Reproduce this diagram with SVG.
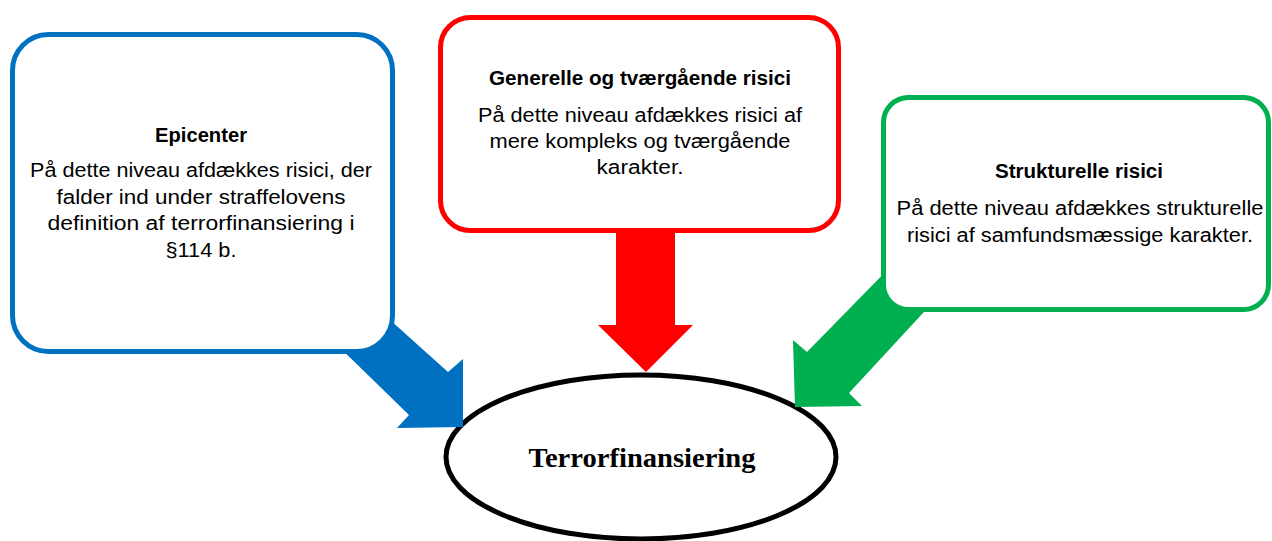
<svg xmlns="http://www.w3.org/2000/svg" width="1272" height="541" viewBox="0 0 1272 541">
  <style>
    .box { fill: #ffffff; stroke-width: 5; }
    .title { font-family: "Liberation Sans", Arial, sans-serif; font-weight: bold; font-size: 20px; fill: #000; text-anchor: middle; }
    .body { font-family: "Liberation Sans", Arial, sans-serif; font-size: 20px; fill: #000; text-anchor: middle; }
    .center { font-family: "Liberation Serif", "Times New Roman", serif; font-weight: bold; font-size: 28px; fill: #000; text-anchor: middle; }
  </style>
  <rect width="1272" height="541" fill="#ffffff"/>

  <g id="center-node">
    <ellipse cx="641" cy="457" rx="195" ry="82" fill="#ffffff" stroke="#000000" stroke-width="5"/>
    <text class="center" x="642" y="467" textLength="227" lengthAdjust="spacingAndGlyphs">Terrorfinansiering</text>
  </g>

  <g id="connectors">
    <polygon id="arrow-blue" fill="#0070C0" points="370,302 448,372 463,359 463,427 397,428 409,415 330,338"/>
    <polygon id="arrow-red" fill="#FF0000" points="616,220 675,220 675,325 693,325 646,372 598,325 616,325"/>
    <polygon id="arrow-green" fill="#00B050" points="900,257 807,352 793,340 795,407 862,406 849,393 923,313 940,295"/>
  </g>

  <g id="node-epicenter">
    <rect class="box" x="12.5" y="34.5" width="380" height="317" rx="36" ry="36" stroke="#0070C0"/>
    <text class="title" x="201" y="142" textLength="92" lengthAdjust="spacingAndGlyphs">Epicenter</text>
    <text class="body" x="201" y="177" textLength="342" lengthAdjust="spacingAndGlyphs">På dette niveau afdækkes risici, der</text>
    <text class="body" x="201" y="204" textLength="289" lengthAdjust="spacingAndGlyphs">falder ind under straffelovens</text>
    <text class="body" x="201" y="230" textLength="307" lengthAdjust="spacingAndGlyphs">definition af terrorfinansiering i</text>
    <text class="body" x="201" y="257" textLength="71" lengthAdjust="spacingAndGlyphs">§114 b.</text>
  </g>

  <g id="node-generelle">
    <rect class="box" x="440.5" y="17.5" width="398" height="213" rx="30" ry="30" stroke="#FF0000"/>
    <text class="title" x="640" y="85" textLength="302" lengthAdjust="spacingAndGlyphs">Generelle og tværgående risici</text>
    <text class="body" x="640" y="122" textLength="324" lengthAdjust="spacingAndGlyphs">På dette niveau afdækkes risici af</text>
    <text class="body" x="640" y="148" textLength="301" lengthAdjust="spacingAndGlyphs">mere kompleks og tværgående</text>
    <text class="body" x="640" y="174" textLength="87" lengthAdjust="spacingAndGlyphs">karakter.</text>
  </g>

  <g id="node-strukturelle">
    <rect class="box" x="883.5" y="97.5" width="385" height="212" rx="25" ry="25" stroke="#00B050"/>
    <text class="title" x="1079" y="178" textLength="168" lengthAdjust="spacingAndGlyphs">Strukturelle risici</text>
    <text class="body" x="1080" y="215" textLength="367" lengthAdjust="spacingAndGlyphs">På dette niveau afdækkes strukturelle</text>
    <text class="body" x="1080" y="242" textLength="346" lengthAdjust="spacingAndGlyphs">risici af samfundsmæssige karakter.</text>
  </g>
</svg>
